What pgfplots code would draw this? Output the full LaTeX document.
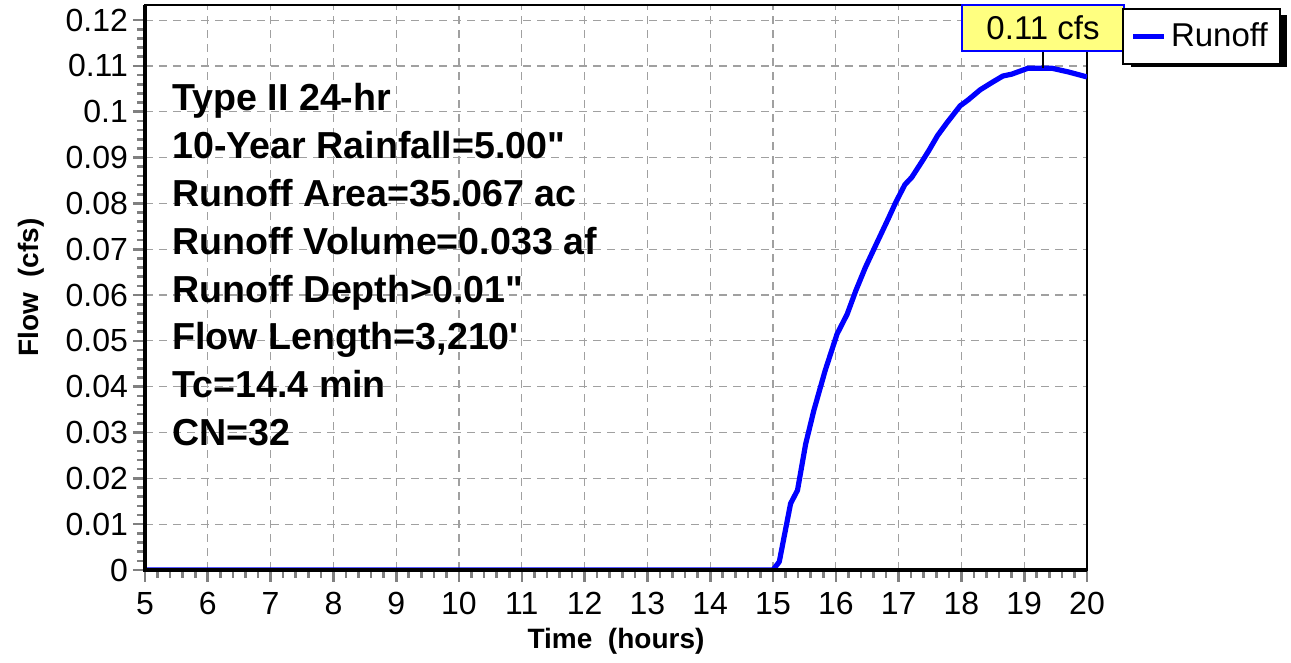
\documentclass[border=0pt]{standalone}
\usepackage{fontspec}
\setmainfont{Liberation Sans}[Ligatures=TeXOff]
\usepackage{pgfplots}
\pgfplotsset{compat=1.18}
\definecolor{gridgray}{HTML}{A0A0A0}
\definecolor{tickgray}{HTML}{808080}
\definecolor{annoyellow}{HTML}{FFFF80}
\begin{document}
\begin{tikzpicture}
\useasboundingbox (0,0) rectangle (645.5pt,331.5pt);
\fill[black] (565.5pt,298pt) rectangle (643.5pt,324pt);
\begin{axis}[
  at={(72.5pt,46.5pt)}, anchor=south west,
  scale only axis, width=471pt, height=282.5pt,
  xmin=5, xmax=20, ymin=0, ymax=0.1233,
  xtick={5,6,7,8,9,10,11,12,13,14,15,16,17,18,19,20},
  ytick={0,0.01,0.02,0.03,0.04,0.05,0.06,0.07,0.08,0.09,0.1,0.11,0.12},
  yticklabels={0,0.01,0.02,0.03,0.04,0.05,0.06,0.07,0.08,0.09,0.1,0.11,0.12},
  xtick pos=bottom, ytick pos=left,
  minor x tick num=4, minor y tick num=4,
  tick align=outside,
  major tick length=6pt, minor tick length=4pt,
  tick style={tickgray, line width=1.3pt},
  xmajorgrids, ymajorgrids,
  major grid style={gridgray, line width=0.6pt, dash pattern=on 4pt off 3pt},
  axis line style={black, line width=1.3pt},
  tick label style={font=\fontsize{16}{16}\selectfont, black},
  xticklabel style={yshift=-1.5pt},
  yticklabel style={xshift=1pt},
  /pgf/number format/assume math mode=true,
  xlabel={Time\ \ (hours)}, ylabel={Flow\ \ (cfs)},
  label style={font=\fontsize{14}{14}\selectfont\bfseries},
  xlabel style={at={(axis description cs:0.5,-0.1381)}, anchor=base},
  ylabel style={at={(axis description cs:-0.1130,0.5)}, anchor=base},
  clip mode=individual,
  legend style={at={(axis description cs:1.037,0.9947)}, anchor=north west,
    draw=black, line width=1pt, fill=white,
    font=\fontsize{16.5}{16.5}\selectfont, inner xsep=4pt, inner ysep=5pt},
  legend image code/.code={\draw[#1] (0pt,0pt) -- (11.5pt,0pt); \path (0pt,0pt) -- (15.5pt,0pt);},
]
\addplot[blue, line width=2.6pt, line join=round] coordinates {
(5,0) (15,0) (15.1,0.0018) (15.28,0.0145) (15.39,0.0174) (15.52,0.0275)
(15.65,0.0348) (15.83,0.0435) (16.02,0.0515) (16.18,0.0558) (16.32,0.061)
(16.47,0.066) (16.63,0.0707) (16.84,0.0768) (16.95,0.0801) (17.1,0.0841)
(17.21,0.0857) (17.37,0.0891) (17.48,0.0915) (17.62,0.0948) (17.77,0.0976)
(17.98,0.1013) (18.1,0.1025) (18.3,0.1048) (18.5,0.1065) (18.66,0.1078)
(18.8,0.1082) (19.06,0.1095) (19.44,0.1095) (19.7,0.1087) (20,0.1076)
};
\addlegendentry{Runoff}
\draw[black, line width=2.2pt] (rel axis cs:0,1) -- (rel axis cs:0,0) -- (rel axis cs:1,0);
\draw[black, line width=1pt] (axis cs:19.3,0.1096) -- (axis cs:19.3,0.1133);
\node[draw=blue, line width=1.1pt, fill=annoyellow, minimum width=81pt, minimum height=23pt,
  inner sep=0pt, font=\fontsize{16.5}{16.5}\selectfont] at (axis cs:19.3,0.1183) {0.11 cfs};
\end{axis}
\begin{scope}[every node/.style={anchor=base west, inner sep=0pt, font=\fontsize{18.8}{18.8}\selectfont\bfseries}]
\node at (86pt,276.0pt) {Type II 24-hr};
\node at (86pt,252.1pt) {10-Year Rainfall=5.00"};
\node at (86pt,228.2pt) {Runoff Area=35.067 ac};
\node at (86pt,204.3pt) {Runoff Volume=0.033 af};
\node at (86pt,180.4pt) {Runoff Depth>0.01"};
\node at (86pt,156.5pt) {Flow Length=3,210'};
\node at (86pt,132.6pt) {Tc=14.4 min};
\node at (86pt,108.7pt) {CN=32};
\end{scope}
\end{tikzpicture}
\end{document}
